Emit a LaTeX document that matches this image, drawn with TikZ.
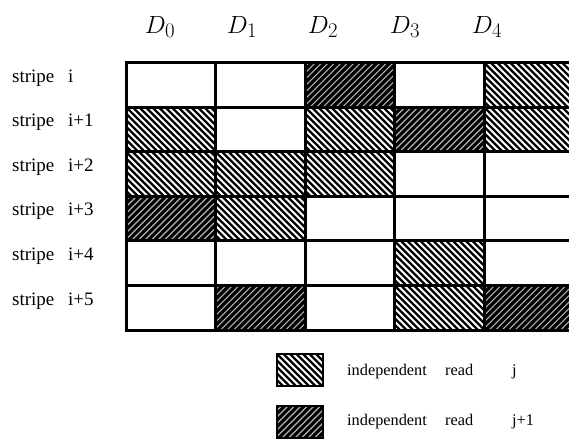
\documentclass[tikz,border=0pt]{standalone}
\usepackage{fontspec}
\setmainfont{Liberation Serif}
\begin{document}
\begin{tikzpicture}[x=1pt,y=-1pt,
  gridline/.style={line width=3pt,black},
  lighthatch/.style={path picture={
    \foreach \k in {-10,...,16}
      \draw[line width=2.3pt,black] ([xshift=\k*6.5pt]path picture bounding box.north west) -- ++(70,70);
  }},
  darkhatch/.style={fill=black,path picture={
    \foreach \k in {-2,...,24}
      \draw[line width=1.2pt,white!70!black] ([xshift=\k*6.5pt-60pt]path picture bounding box.south west) -- ++(70,-70);
  }},
  rowlabel/.style={anchor=base west,inner sep=0pt,font=\fontsize{19}{21}\selectfont},
  collabel/.style={anchor=base,inner sep=0pt,font=\fontsize{28}{32}\selectfont},
  legendbox/.style={draw=black,line width=2pt},
  legendtext/.style={anchor=base west,inner sep=0pt,font=\fontsize{16.3}{18}\selectfont}
]
\clip (0,0) rectangle (569,442);
\fill[white] (0,0) rectangle (569,442);
% column headers
\foreach \n/\x in {0/160,1/242,2/323,3/405,4/487}
  \node[collabel] (D\n) at (\x,33) {$D_{\n}$};
% cells: row/col/type (1=light, 2=dark)
\foreach \r/\c/\t in {0/2/2,0/4/1,
                      1/0/1,1/2/1,1/3/2,1/4/1,
                      2/0/1,2/1/1,2/2/1,
                      3/0/2,3/1/1,
                      4/3/1,
                      5/1/2,5/3/1,5/4/2}{
  \pgfmathsetmacro{\xa}{126+\c*89.5}
  \pgfmathsetmacro{\xb}{126+(\c+1)*89.5}
  \pgfmathsetmacro{\ya}{62.5+\r*44.6}
  \pgfmathsetmacro{\yb}{62.5+(\r+1)*44.6}
  \ifnum\t=1
    \path[lighthatch] (\xa,\ya) rectangle (\xb,\yb);
  \else
    \path[darkhatch] (\xa,\ya) rectangle (\xb,\yb);
  \fi
}
% grid
\foreach \r in {0,...,6}
  \draw[gridline] (124.5,62.5+\r*44.6) -- (575,62.5+\r*44.6);
\foreach \c in {0,...,5}
  \draw[gridline] (126+\c*89.5,62.5) -- (126+\c*89.5,330.1);
% row labels
\foreach \r/\lab in {0/i,1/i+1,2/i+2,3/i+3,4/i+4,5/i+5}{
  \node[rowlabel] (S\r) at (12,82+\r*44.6) {stripe};
  \node[rowlabel] (N\r) at (68,82+\r*44.6) {\lab};
}
% legend
\path[lighthatch] (277,354) rectangle (323,386);
\draw[legendbox] (277,354) rectangle (323,386);
\path[darkhatch] (277,406) rectangle (323,438);
\draw[legendbox] (277,406) rectangle (323,438);
\node[legendtext] (L1a) at (347,375) {independent};
\node[legendtext] (L1b) at (445,375) {read};
\node[legendtext] (L1c) at (512,375) {j};
\node[legendtext] (L2a) at (347,425) {independent};
\node[legendtext] (L2b) at (445,425) {read};
\node[legendtext] (L2c) at (512,425) {j+1};
\end{tikzpicture}
\end{document}
